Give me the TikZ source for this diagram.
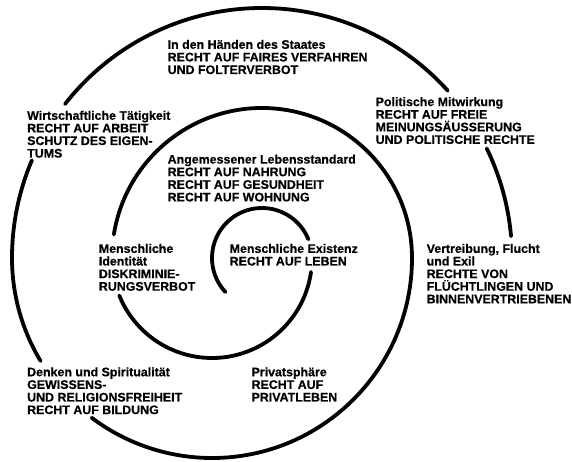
\documentclass[tikz,border=0pt]{standalone}
\usepackage{fontspec}
\setmainfont{Liberation Sans}[BoldFont={Liberation Sans Bold},BoldFeatures={FakeBold=0.5}]
\begin{document}
\begin{tikzpicture}[x=1bp,y=-1bp,
  spiral/.style={line width=3.8bp, line cap=round},
  lbl/.style={anchor=north west, inner sep=0pt, align=left,
    font=\fontsize{12.4bp}{12.6bp}\selectfont\bfseries}]
\useasboundingbox (0,0) rectangle (572,462);
\coordinate (A) at (262,258);
\coordinate (B) at (212,258);
% spiral
\draw[spiral] ([shift={(137:50)}]A) arc[start angle=137, end angle=338, radius=50];
\draw[spiral] ([shift={(8:100)}]B) arc[start angle=8, end angle=158, radius=100];
\draw[spiral] ([shift={(189:150)}]A) arc[start angle=189, end angle=360, radius=150]
  arc[start angle=0, end angle=127, radius=200];
\draw[spiral] ([shift={(149:200)}]B) arc[start angle=149, end angle=180, radius=200]
  arc[start angle=180, end angle=203, radius=250];
\draw[spiral] ([shift={(218:250)}]A) arc[start angle=218, end angle=318, radius=250];
\draw[spiral] ([shift={(334:250)}]A) arc[start angle=334, end angle=355, radius=250];
% labels
\node[lbl] (staat) at (167.5,39.6) {In den Händen des Staates\\RECHT AUF FAIRES VERFAHREN\\UND FOLTERVERBOT};
\node[lbl] (wirt) at (27,110.6) {Wirtschaftliche Tätigkeit\\RECHT AUF ARBEIT\\SCHUTZ DES EIGEN-\\TUMS};
\node[lbl] (polit) at (375.5,96.9) {Politische Mitwirkung\\RECHT AUF FREIE\\MEINUNGSÄUSSERUNG\\UND POLITISCHE RECHTE};
\node[lbl] (leben) at (167.5,154.4) {Angemessener Lebensstandard\\RECHT AUF NAHRUNG\\RECHT AUF GESUNDHEIT\\RECHT AUF WOHNUNG};
\node[lbl] (ident) at (98.7,243.7) {Menschliche\\Identität\\DISKRIMINIE-\\RUNGSVERBOT};
\node[lbl] (exist) at (229.5,243.7) {Menschliche Existenz\\RECHT AUF LEBEN};
\node[lbl] (flucht) at (426.5,243.7) {Vertreibung, Flucht\\und Exil\\RECHTE VON\\FLÜCHTLINGEN UND\\BINNENVERTRIEBENEN};
\node[lbl] (denk) at (27,367.1) {Denken und Spiritualität\\GEWISSENS-\\UND RELIGIONSFREIHEIT\\RECHT AUF BILDUNG};
\node[lbl] (priv) at (251.4,367.1) {Privatsphäre\\RECHT AUF\\PRIVATLEBEN};
\end{tikzpicture}
\end{document}
